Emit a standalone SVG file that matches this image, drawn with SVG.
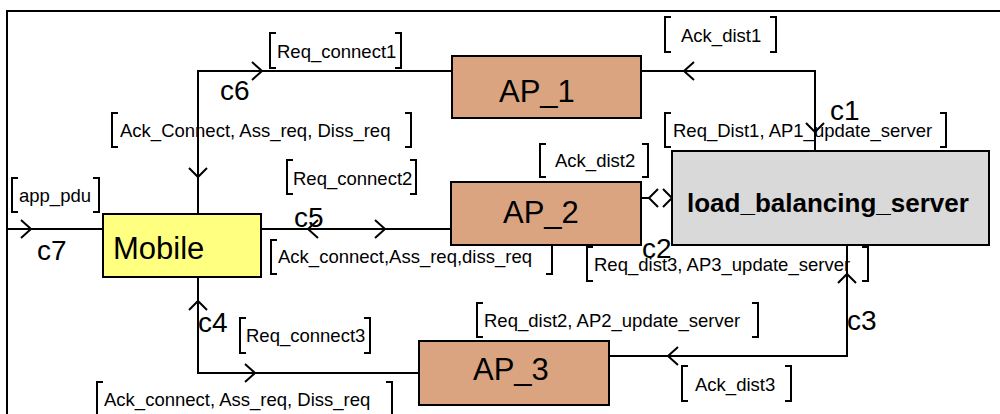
<svg xmlns="http://www.w3.org/2000/svg" width="1000" height="414" viewBox="0 0 1000 414">
<style>
.frame{fill:none;stroke:#000;stroke-width:2}
.box{stroke:#000;stroke-width:2}
.ap{fill:#d9a47f}
.mob{fill:#ffff80}
.lbs{fill:#d9d9d9}
.ln{fill:none;stroke:#000;stroke-width:2}
.br{fill:none;stroke:#000;stroke-width:2}
.lbl{font-family:"Liberation Sans",Arial,sans-serif;font-size:18.5px;fill:#000}
.nt{font-family:"Liberation Sans",Arial,sans-serif;font-size:31px;fill:#000}
.bt{font-family:"Liberation Sans",Arial,sans-serif;font-size:26px;font-weight:bold;fill:#000}
.ct{font-family:"Liberation Sans",Arial,sans-serif;font-size:28px;fill:#000}
</style>
<rect x="0" y="0" width="1000" height="414" fill="#fff"/>
<path class="frame" d="M7,414 V11 H1000"/>

<g id="connectors">
  <!-- c6 -->
  <path class="ln" d="M452,71 H198 V214"/>
  <path class="ln" d="M252,62 L262,71 L252,80"/>
  <path class="ln" d="M189,168 L198,177 L207,168"/>
  <!-- c1 -->
  <path class="ln" d="M815,151 V71 H641"/>
  <path class="ln" d="M694,62 L684,71 L694,80"/>
  <path class="ln" d="M806,123 L815,132 L824,123"/>
  <!-- c7 -->
  <path class="ln" d="M7,229 H103"/>
  <path class="ln" d="M21,220 L31,229 L21,238"/>
  <!-- c5 -->
  <path class="ln" d="M261,229 H451"/>
  <path class="ln" d="M318,220 L308,229 L318,238"/>
  <path class="ln" d="M375,220 L385,229 L375,238"/>
  <!-- c4 -->
  <path class="ln" d="M198,277 V373 H419"/>
  <path class="ln" d="M189,310 L198,301 L207,310"/>
  <path class="ln" d="M245,364 L255,373 L245,382"/>
  <!-- c3 -->
  <path class="ln" d="M847,245 V356 H609"/>
  <path class="ln" d="M838,283 L847,274 L856,283"/>
  <path class="ln" d="M678,347 L668,356 L678,365"/>
  <!-- c2 -->
  <path class="ln" d="M641,198 H649"/>
  <path class="ln" d="M658,189 L649,198 L658,207"/>
  <path class="ln" d="M663,189 L672,198 L663,207"/>

  <text class="ct" x="220" y="100">c6</text>
  <text class="ct" x="830" y="120">c1</text>
  <text class="ct" x="37" y="260">c7</text>
  <text class="ct" x="294" y="227">c5</text>
  <text class="ct" x="642" y="258">c2</text>
  <text class="ct" x="198" y="332">c4</text>
  <text class="ct" x="847" y="330">c3</text>
</g>

<g id="labels">
  <g id="lbl-req-connect1">
    <path class="br" d="M276,33 H270 V68 H276 M395,33 H401 V68 H395"/>
    <text class="lbl" x="277" y="58">Req_connect1</text>
  </g>
  <g id="lbl-ack-connect-top">
    <path class="br" d="M118,113 H112 V147 H118 M405,113 H411 V147 H405"/>
    <text class="lbl" x="120" y="137">Ack_Connect, Ass_req, Diss_req</text>
  </g>
  <g id="lbl-req-connect2">
    <path class="br" d="M293,160 H287 V194 H293 M410,160 H416 V194 H410"/>
    <text class="lbl" x="293" y="185">Req_connect2</text>
  </g>
  <g id="lbl-app-pdu">
    <path class="br" d="M18,178 H12 V212 H18 M93,178 H99 V212 H93"/>
    <text class="lbl" x="19" y="202">app_pdu</text>
  </g>
  <g id="lbl-ack-connect-mid">
    <path class="br" d="M277,240 H271 V274 H277 M546,240 H552 V274 H546"/>
    <text class="lbl" x="278" y="263">Ack_connect,Ass_req,diss_req</text>
  </g>
  <g id="lbl-req-connect3">
    <path class="br" d="M246,318 H240 V353 H246 M364,318 H370 V353 H364"/>
    <text class="lbl" x="246" y="342">Req_connect3</text>
  </g>
  <g id="lbl-ack-connect-bottom">
    <path class="br" d="M103,382 H97 V420 M386,382 H392 V420"/>
    <text class="lbl" x="104" y="406">Ack_connect, Ass_req, Diss_req</text>
  </g>
  <g id="lbl-ack-dist1">
    <path class="br" d="M671,17 H665 V52 H671 M770,17 H776 V52 H770"/>
    <text class="lbl" x="681" y="42">Ack_dist1</text>
  </g>
  <g id="lbl-req-dist1">
    <path class="br" d="M671,113 H665 V147 H671 M940,113 H946 V147 H940"/>
    <text class="lbl" x="673" y="137">Req_Dist1, AP1_update_server</text>
  </g>
  <g id="lbl-ack-dist2">
    <path class="br" d="M546,144 H540 V177 H546 M642,144 H648 V177 H642"/>
    <text class="lbl" x="555" y="167">Ack_dist2</text>
  </g>
  <g id="lbl-req-dist3">
    <path class="br" d="M593,247 H587 V281 H593 M862,247 H868 V281 H862"/>
    <text class="lbl" x="594" y="271">Req_dist3, AP3_update_server</text>
  </g>
  <g id="lbl-req-dist2">
    <path class="br" d="M483,303 H477 V337 H483 M752,303 H758 V337 H752"/>
    <text class="lbl" x="484" y="327">Req_dist2, AP2_update_server</text>
  </g>
  <g id="lbl-ack-dist3">
    <path class="br" d="M688,366 H682 V401 H688 M785,366 H791 V401 H785"/>
    <text class="lbl" x="695" y="391">Ack_dist3</text>
  </g>
</g>

<g id="AP_1">
  <rect class="box ap" x="452" y="56" width="189" height="62"/>
  <text class="nt" x="499" y="102">AP_1</text>
</g>
<g id="AP_2">
  <rect class="box ap" x="451" y="182" width="190" height="63"/>
  <text class="nt" x="503" y="223">AP_2</text>
</g>
<g id="AP_3">
  <rect class="box ap" x="419" y="341" width="190" height="64"/>
  <text class="nt" x="473" y="380">AP_3</text>
</g>
<g id="Mobile">
  <rect class="box mob" x="103" y="214" width="158" height="63"/>
  <text class="nt" x="113" y="259">Mobile</text>
</g>
<g id="load_balancing_server">
  <rect class="box lbs" x="672" y="151" width="317" height="94"/>
  <text class="bt" x="687" y="212">load_balancing_server</text>
</g>
</svg>
